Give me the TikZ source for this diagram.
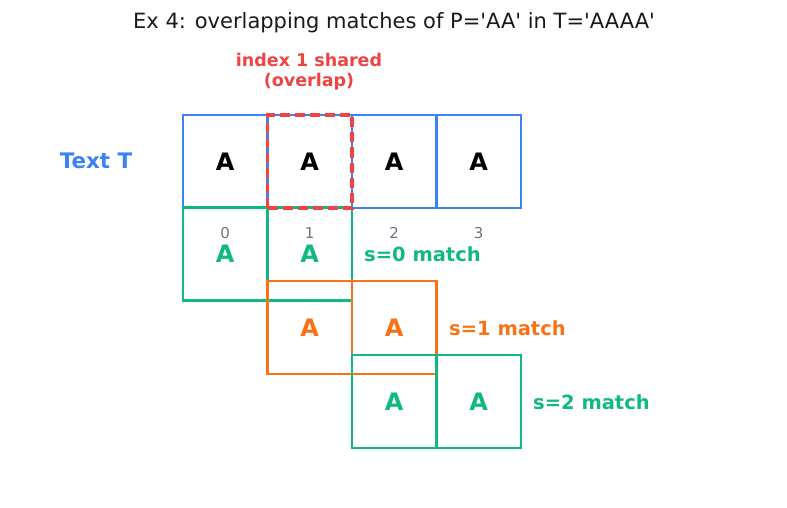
\documentclass[tikz,border=0pt]{standalone}
\usepackage{fontspec}
\setmainfont{DejaVu Sans}
\newfontfamily\plainfont{DejaVu Sans}
\definecolor{tblue}{HTML}{3B82F6}
\definecolor{tgreen}{HTML}{10B981}
\definecolor{torange}{HTML}{F97316}
\definecolor{tred}{HTML}{EF4444}
\definecolor{tgray}{HTML}{6B7280}
\begin{document}
\begin{tikzpicture}[x=1pt,y=-1pt,
  cell/.style={draw=#1,line width=2.2pt,minimum width=84.5pt,minimum height=93pt,inner sep=0pt,
    text=#1,font=\fontsize{24}{26}\selectfont\bfseries},
  idx/.style={text=tgray,font=\fontsize{15}{17}\selectfont},
  lab/.style={text=#1,font=\fontsize{19.5}{21}\selectfont\bfseries,anchor=west,inner sep=0pt},
  ovl/.style={draw=tred,line width=3.5pt,dash pattern=on 10pt off 5pt,minimum width=84.5pt,minimum height=93pt,inner sep=0pt}]
\useasboundingbox (0,0) rectangle (787,508);
\node[font=\plainfont\fontsize{21}{23}\selectfont,text=black!90] (title) at (394,23) {Ex 4: overlapping matches of P='AA' in T='AAAA'};
\node[text=tblue,font=\fontsize{21.4}{23}\selectfont\bfseries] (tlab) at (96,161) {Text T};
% text row
\node[cell=tblue,text=black] (t0) at (225.25,161.5) {A};
\node[cell=tblue,text=black] (t1) at (309.75,161.5) {A};
\node[cell=tblue,text=black] (t2) at (394.25,161.5) {A};
\node[cell=tblue,text=black] (t3) at (478.75,161.5) {A};
% s=0
\node[cell=tgreen] (a0) at (225.25,254) {A};
\node[cell=tgreen] (a1) at (309.75,254) {A};
% indices
\node[idx] (i0) at (225.25,233) {0};
\node[idx] (i1) at (309.75,233) {1};
\node[idx] (i2) at (394.25,233) {2};
\node[idx] (i3) at (478.75,233) {3};
\node[lab=tgreen] (l0) at (364,254) {s=0 match};
% s=1
\node[cell=torange] (b1) at (309.75,327.5) {A};
\node[cell=torange] (b2) at (394.25,327.5) {A};
\node[lab=torange] (l1) at (449,328) {s=1 match};
% s=2
\node[cell=tgreen] (c2) at (394.25,401.5) {A};
\node[cell=tgreen] (c3) at (478.75,401.5) {A};
\node[lab=tgreen] (l2) at (533,402) {s=2 match};
% overlap
\node[ovl] (ov) at (309.75,161.5) {};
\node[text=tred,font=\fontsize{17.5}{20}\selectfont\bfseries,align=center] (ovlab) at (309,72) {index 1 shared\\(overlap)};
\end{tikzpicture}
\end{document}
